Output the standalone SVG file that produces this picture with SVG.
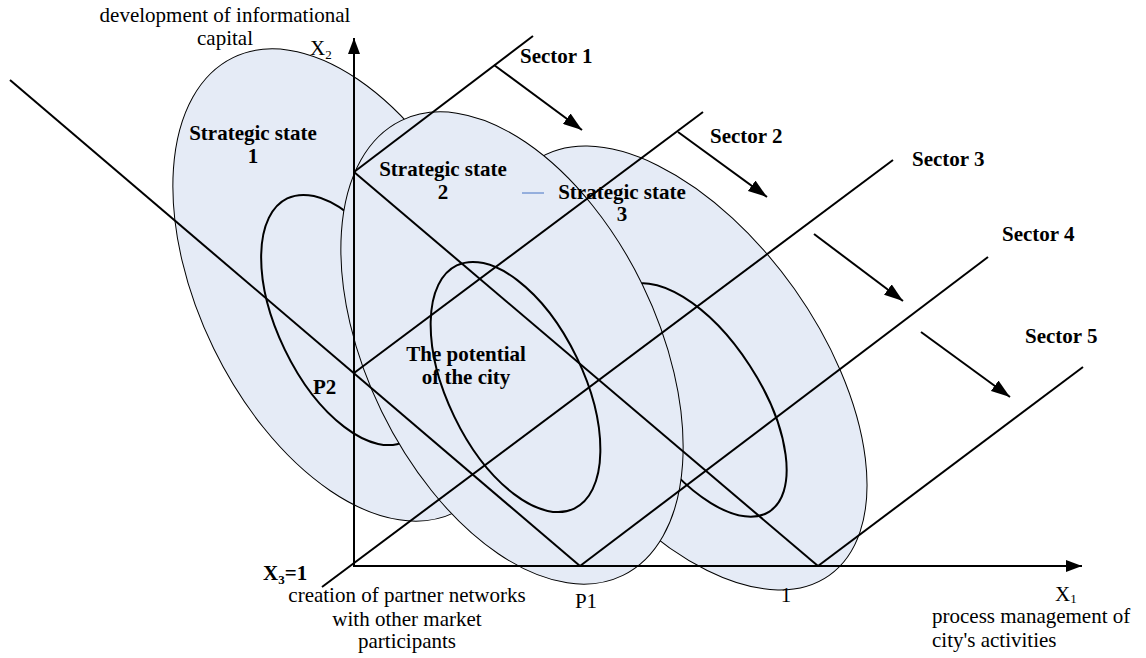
<svg xmlns="http://www.w3.org/2000/svg" width="1146" height="658" viewBox="0 0 1146 658">
<style>
  .big { fill: #E5EBF6; stroke: #000; stroke-width: 1; }
  .inner { fill: none; stroke: #000; stroke-width: 2; }
  .ln { fill: none; stroke: #000; stroke-width: 2; }
  .t { font-family: "Liberation Serif", "Times New Roman", serif; font-size: 21px; fill: #000; }
  .b { font-weight: bold; }
  .sub { font-size: 13px; }
</style>
<defs>
  <marker id="ah" viewBox="0 0 16 12" refX="16" refY="6" markerWidth="16" markerHeight="12" markerUnits="userSpaceOnUse" orient="auto">
    <path d="M0,0 L16,6 L0,12 z" fill="#000"/>
  </marker>
  <marker id="ahs" viewBox="0 0 19 13" refX="19" refY="6.5" markerWidth="19" markerHeight="13" markerUnits="userSpaceOnUse" orient="auto">
    <path d="M0,0 L19,6.5 L0,13 z" fill="#000"/>
  </marker>
</defs>
<rect width="1146" height="658" fill="#fff"/>

<g id="state1">
  <ellipse class="big" cx="344" cy="285" rx="253" ry="145" transform="rotate(64 344 285)"/>
  <ellipse class="inner" cx="346" cy="320" rx="135" ry="68" transform="rotate(64.2 346 320)"/>
</g>
<g id="state3">
  <ellipse class="big" cx="682.5" cy="368" rx="254" ry="137" transform="rotate(54.7 682.5 368)"/>
  <ellipse class="inner" cx="697" cy="400" rx="133" ry="63" transform="rotate(57 697 400)"/>
</g>
<g id="state2">
  <ellipse class="big" cx="512" cy="348" rx="253" ry="145" transform="rotate(64 512 348)"/>
  <ellipse class="inner" cx="515.5" cy="387" rx="135" ry="68" transform="rotate(64.2 515.5 387)"/>
</g>

<g id="connectors">
  <line class="ln" x1="354" y1="567" x2="354" y2="38" marker-end="url(#ah)"/>
  <line class="ln" x1="353" y1="566" x2="1082" y2="566" marker-end="url(#ah)"/>
  <line class="ln" x1="322" y1="587" x2="893" y2="160"/>
  <line class="ln" x1="10" y1="80" x2="580" y2="566"/>
  <line class="ln" x1="354" y1="172" x2="818" y2="566"/>
  <line class="ln" x1="354" y1="172" x2="533" y2="36"/>
  <line class="ln" x1="354" y1="373" x2="703" y2="112"/>
  <line class="ln" x1="580" y1="566" x2="988" y2="257"/>
  <line class="ln" x1="818" y1="566" x2="1083" y2="367"/>
  <line class="ln" x1="494" y1="65" x2="582" y2="130" marker-end="url(#ahs)"/>
  <line class="ln" x1="678" y1="132" x2="767" y2="197" marker-end="url(#ahs)"/>
  <line class="ln" x1="814" y1="234" x2="903" y2="301" marker-end="url(#ahs)"/>
  <line class="ln" x1="921" y1="332" x2="1010" y2="397" marker-end="url(#ahs)"/>
  <line x1="522" y1="193" x2="544" y2="193" stroke="#4472C4" stroke-width="1"/>
</g>

<g id="labels">
  <text class="t" x="225" y="22" text-anchor="middle">development of informational</text>
  <text class="t" x="225" y="45" text-anchor="middle">capital</text>
  <text class="t" x="310" y="55">X<tspan class="sub" dy="4">2</tspan></text>

  <text class="t b" x="253" y="140" text-anchor="middle">Strategic state</text>
  <text class="t b" x="253" y="163" text-anchor="middle">1</text>
  <text class="t b" x="443" y="176" text-anchor="middle">Strategic state</text>
  <text class="t b" x="443" y="199" text-anchor="middle">2</text>
  <text class="t b" x="622" y="199" text-anchor="middle">Strategic state</text>
  <text class="t b" x="622" y="221" text-anchor="middle">3</text>

  <text class="t b" x="520" y="63">Sector 1</text>
  <text class="t b" x="710" y="143">Sector 2</text>
  <text class="t b" x="912" y="166">Sector 3</text>
  <text class="t b" x="1002" y="241">Sector 4</text>
  <text class="t b" x="1025" y="343">Sector 5</text>

  <text class="t b" x="466" y="361" text-anchor="middle">The potential</text>
  <text class="t b" x="466" y="384" text-anchor="middle">of the city</text>
  <text class="t b" x="313" y="394">P2</text>

  <text class="t b" x="263" y="580">X<tspan class="sub" dy="4">3</tspan><tspan dy="-4">=1</tspan></text>
  <text class="t" x="407" y="602" text-anchor="middle">creation of partner networks</text>
  <text class="t" x="407" y="626" text-anchor="middle">with other market</text>
  <text class="t" x="407" y="648" text-anchor="middle">participants</text>
  <text class="t" x="586" y="608" text-anchor="middle">P1</text>
  <text class="t" x="786" y="602" text-anchor="middle">1</text>
  <text class="t" x="1055" y="601">X<tspan class="sub" dy="2">1</tspan></text>
  <text class="t" x="932" y="623">process management of</text>
  <text class="t" x="932" y="647">city's activities</text>
</g>
</svg>
